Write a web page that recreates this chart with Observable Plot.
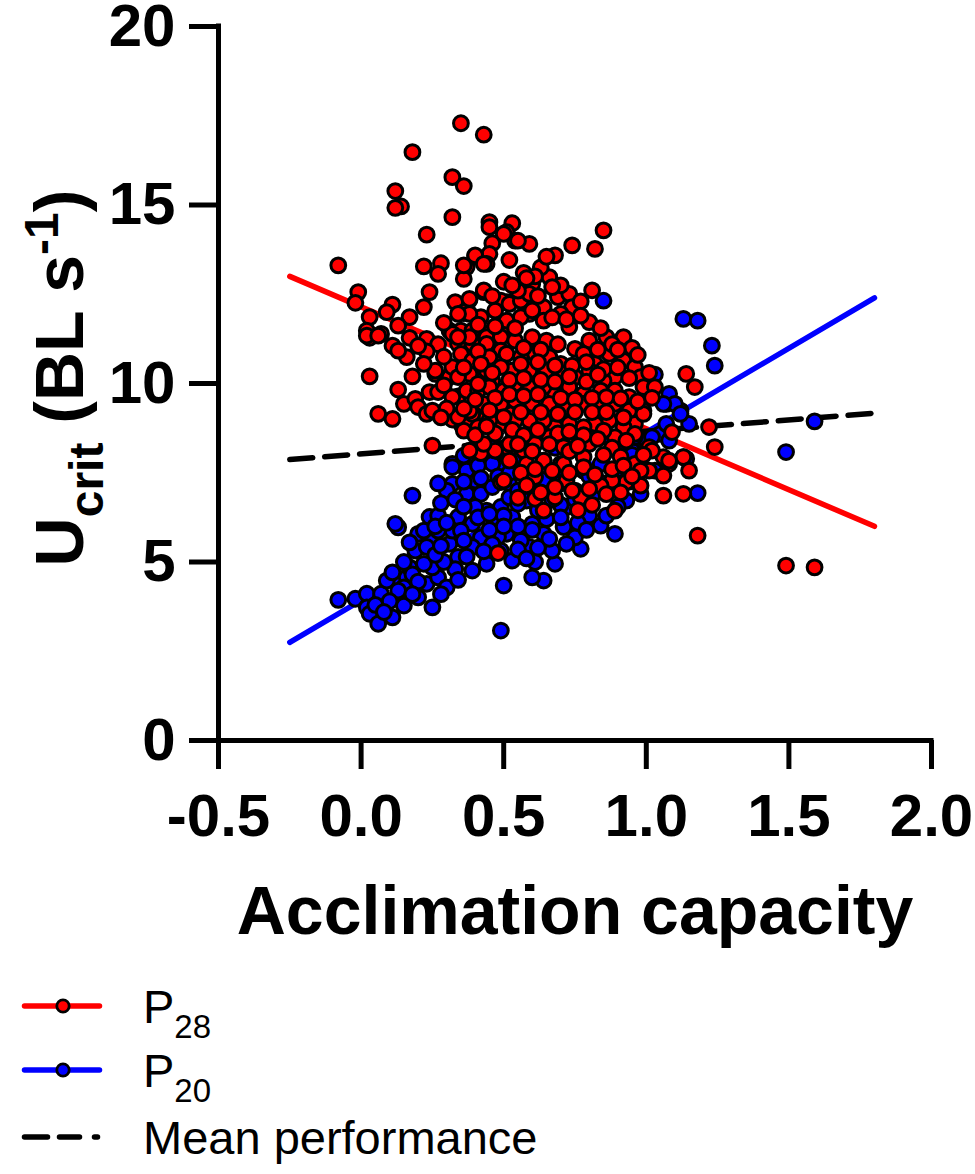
<!DOCTYPE html>
<html><head><meta charset="utf-8">
<script src="https://cdn.jsdelivr.net/npm/d3@7"></script>
<script src="https://cdn.jsdelivr.net/npm/@observablehq/plot@0.6"></script>
<style>
body{margin:0;background:#fff;}
#wrap{position:relative;width:975px;height:1174px;background:#fff;}
#legend{position:absolute;left:0;top:960px;}
</style></head><body><div id="wrap"><div id="chart"></div><svg id="legend" width="975" height="214"></svg></div>
<script>
// ---- data ----
const xTicks = [-0.5, 0, 0.5, 1, 1.5, 2];
const xTickLabels = ["-0.5", "0.0", "0.5", "1.0", "1.5", "2.0"];
const yTicks = [0, 5, 10, 15, 20];
const yTickLabels = ["0", "5", "10", "15", "20"];
const xTitle = "Acclimation capacity";

// P28 (red) points [acclimation capacity, Ucrit]
const p28 = [
[0.35,17.29],[0.43,16.97],[0.18,16.48],[0.32,15.78],[0.36,15.53],[0.12,15.39],[0.14,14.96],[0.12,14.92],[0.32,14.66],[0.23,14.17],
[0.45,14.52],[0.45,14.38],[0.53,14.49],[0.51,14.24],[0.54,14.0],
[0.46,13.93],[0.45,13.63],[0.44,13.35],[0.52,13.46],[0.40,13.56],[0.37,13.26],[0.36,12.93],[0.28,13.37],[0.27,13.07],[0.22,13.28],[-0.08,13.31],
[0.24,12.56],[0.22,12.14],[0.43,12.56],[0.38,12.34],[0.33,12.28],[0.36,11.97],[-0.01,12.56],[-0.02,12.26],[0.11,12.21],[0.09,12.0],
[0.03,11.86],[0.02,11.48],[0.03,11.28],[0.17,11.86],[0.13,11.62],[0.17,11.28],[0.07,11.39],[0.23,11.25],
[0.31,11.48],[0.35,11.48],[0.39,11.48],[0.44,11.39],[0.49,11.48],[0.51,12.28],[0.48,12.32],[0.36,12.0],[0.42,11.86],[0.51,11.76],
[0.02,11.34],[0.06,11.34],[0.11,11.06],[0.16,10.74],[0.13,10.92],[0.03,10.2],
[0.13,9.83],[0.15,9.43],[0.19,9.57],[0.20,9.34],[0.24,9.76],[0.27,9.76],[0.26,10.27],[0.31,10.18],[0.06,9.15],[0.11,9.01],[0.23,9.15],[0.25,9.24],
[0.25,8.26],[0.42,8.05],[0.49,7.24],[0.48,5.25],
[0.32,8.99],[0.38,8.96],[0.42,8.87],[0.34,9.64],[0.39,9.15],[0.44,9.06],[0.37,9.80],[0.41,9.80],[0.46,10.08],[0.39,10.36],[0.32,10.46],[0.34,11.11],[0.39,11.11],[0.44,11.30],[0.49,11.30],[0.49,10.92],[0.49,10.55],[0.53,10.18],[0.49,9.62],[0.53,9.15],[0.49,8.87],[0.53,8.40],[0.51,8.22],[0.32,9.62],[0.26,10.36],[0.32,11.39],
[0.85,14.29],[0.74,13.87],[0.82,13.77],[0.68,13.59],[0.59,13.91],[0.55,14.0],[0.50,14.19],[0.40,13.59],[0.36,13.31],[0.43,13.35],[0.66,12.98],[0.60,12.79],[0.81,12.61],
[0.43,12.61],[0.38,12.37],[0.49,12.32],[0.52,12.23],[0.56,12.32],[0.59,12.51],[0.64,12.14],[0.69,12.42],[0.73,12.51],[0.74,12.14],[0.70,11.95],[0.64,11.76],[0.59,11.95],[0.56,11.86],[0.47,12.04],[0.38,11.95],[0.34,11.95],
[0.80,11.72],[0.86,11.30],[0.92,11.30],[0.73,11.58],[0.80,11.20],[0.75,10.97],[0.65,11.20],[0.60,11.30],[0.54,11.20],[0.44,11.11],[0.38,11.30],[0.34,11.30],[0.35,10.83],[0.39,10.64],[0.45,10.74],[0.51,10.83],[0.56,10.74],[0.61,10.83],[0.66,10.74],[0.70,10.55],[0.78,10.83],[0.82,10.55],[0.87,10.83],[0.92,10.64],[0.96,10.46],[0.98,10.18],[0.89,10.18],[0.85,10.08],[0.80,10.36],[0.75,10.18],[0.71,10.27],[0.65,10.36],[0.59,10.36],[0.53,10.36],[0.49,10.46],[0.44,10.36],[0.38,10.27],[0.34,10.18],
[0.99,9.90],[0.94,9.62],[0.89,9.80],[0.84,9.80],[0.78,9.71],[0.73,9.90],[0.68,9.71],[0.64,9.90],[0.59,9.90],[0.54,9.99],[0.50,9.80],[0.45,9.90],[0.41,9.99],[0.38,9.24],[0.43,9.43],[0.49,9.43],[0.54,9.52],[0.60,9.43],[0.66,9.43],[0.72,9.34],[0.78,9.43],[0.84,9.52],[0.89,9.43],[0.94,9.24],[0.99,9.24],[0.96,8.87],[0.92,8.78],[0.87,8.96],[0.82,8.87],[0.78,8.78],[0.73,8.87],[0.68,8.78],[0.64,8.96],[0.59,8.96],[0.54,8.96],[0.50,9.06],[0.45,8.96],[0.41,8.78],[0.36,8.68],[0.34,9.06],
[0.96,8.59],[1.01,8.22],[1.06,7.94],[1.08,7.75],[1.13,7.94],[1.15,7.56],[0.89,8.50],[0.85,8.68],[0.80,8.31],[0.75,8.50],[0.71,8.22],[0.66,8.50],[0.61,8.31],[0.57,8.12],[0.52,8.31],[0.47,8.12],[0.43,8.31],[0.38,8.12],[0.78,7.94],[0.70,7.75],[0.64,7.84],[0.58,7.75],[0.52,7.84],[0.96,7.75],[1.01,7.56],[1.22,8.78],[1.24,8.22],[1.14,10.27],[1.17,9.90],[1.03,9.90],
[1.13,6.91],[1.06,6.86],[1.06,7.42],[1.09,8.64],[1.08,7.84],[1.02,8.12],[0.98,7.14],[0.98,7.56],[0.93,7.24],[0.89,6.44],[0.88,7.28],[1.18,5.74],[1.49,4.90],[1.59,4.85],[0.84,7.14],[0.77,6.81],[0.68,6.81],[0.61,6.77],[0.64,6.44],[0.72,7.28],[0.61,7.38],[0.50,7.28],[0.78,7.66],[0.71,7.75],[0.64,7.84],[0.99,9.15],
[0.57,13.1],[0.63,13.25],[0.50,12.85],[0.55,12.6],[0.70,12.75],[0.77,12.3],[0.62,12.45],[0.46,12.45],
[0.60,12.05],[0.67,11.85],[0.72,11.8],[0.77,11.9],[0.84,11.55],[0.88,11.1],[0.95,11.0],[0.47,11.6],[0.54,11.55],[0.41,11.65],[0.29,11.7],[0.27,11.1],[0.23,10.9],[0.20,11.05],
[0.57,11.0],[0.63,10.95],[0.69,11.1],[0.83,10.95],[0.90,10.95],[0.97,10.8],[0.41,10.9],[0.29,10.75],[0.22,10.55],[0.18,10.2],[0.29,9.95],
[0.56,10.55],[0.62,10.6],[0.68,10.5],[0.74,10.5],[0.79,10.6],[0.85,10.4],[0.90,10.45],[0.94,10.15],[1.01,10.3],[0.42,10.55],[0.36,10.45],[0.46,10.3],[0.52,10.1],[0.57,10.15],[0.63,10.1],[0.68,10.05],[0.73,10.2],[0.79,10.05],[0.83,10.25],
[0.47,9.6],[0.52,9.7],[0.57,9.65],[0.62,9.7],[0.70,9.6],[0.75,9.55],[0.81,9.6],[0.86,9.62],[0.91,9.58],[0.97,9.5],[1.02,9.6],[0.40,9.55],[0.36,9.3],[0.45,9.25],[0.56,9.2],[0.63,9.2],[0.69,9.15],[0.75,9.2],[0.81,9.2],[0.86,9.2],[0.92,9.05],[0.30,9.3],[0.28,9.05],
[0.47,8.6],[0.53,8.7],[0.57,8.55],[0.62,8.7],[0.69,8.6],[0.73,8.65],[0.78,8.55],[0.83,8.45],[0.88,8.2],[0.93,8.4],[0.99,8.0],[0.40,8.55],[0.44,8.8],[0.55,8.3],[0.66,8.3],[0.73,8.1],[0.76,8.25],[0.85,8.0],[0.91,7.95],[0.60,8.1],
[0.56,7.5],[0.61,7.6],[0.67,7.55],[0.73,7.5],[0.82,7.45],[0.88,7.6],[0.92,7.7],[0.95,7.4],[0.68,7.1],[0.74,7.0],[0.80,7.05],[0.86,6.9],[0.91,6.95],[0.58,7.15],[0.55,6.8],[0.63,6.95],[0.81,6.6],[0.76,6.45],
[0.61,13.0],[0.65,13.55],[0.58,12.95],[0.67,12.7],[0.53,12.75]
];

// P20 (blue) points
const p20 = [
[1.59,8.94],[1.49,8.08],[1.18,6.93],[0.89,5.79],[0.77,5.37],[0.68,4.95],[0.64,4.48],[0.60,4.57],[0.61,5.0],[0.53,5.04],[0.50,4.34],[0.49,3.08],[0.84,6.02],[0.80,6.30],[0.75,5.69],[0.72,5.51],[0.67,5.32],[0.59,5.42],[0.56,5.60],[0.51,5.79],[0.64,5.79],[0.71,5.98],[0.60,6.07],[0.53,6.26],[0.49,6.54],[0.58,6.72],[0.72,6.54],[0.52,7.19],[0.56,7.84],[0.93,6.72],[1.03,7.56],[1.14,7.89],[1.15,8.87],[1.07,9.43],[1.12,9.24],[0.98,6.91],[0.84,7.75],[0.95,8.12],[1.0,8.40],[1.05,8.59],
[1.13,11.81],[1.18,11.76],[1.23,11.06],[1.24,10.50],[1.03,10.25],[1.08,9.71],[1.10,9.43],[1.06,9.43],[1.12,9.15],[1.07,8.87],[1.02,8.50],[1.08,8.40],[1.13,7.94],[0.85,12.32],[0.32,7.75],[0.37,7.94],[0.45,7.84],[0.50,7.66],[0.54,7.84],[0.60,7.56],[0.70,7.56],[0.78,7.56],[0.94,7.75],[1.0,8.12],[0.96,8.50],[0.35,8.87],[0.46,8.22],
[-0.08,3.94],[-0.02,3.97],[0.02,4.11],[0.02,3.73],[0.03,3.55],[0.06,3.27],[0.11,3.45],[0.07,4.11],[0.09,4.48],[0.11,4.71],[0.16,4.57],[0.17,4.85],[0.15,4.29],[0.15,3.78],[0.20,4.01],[0.25,3.73],[0.23,4.39],[0.27,4.57],[0.25,4.85],[0.22,4.95],[0.19,5.32],[0.20,5.79],[0.25,5.69],[0.24,6.26],[0.27,6.30],[0.13,5.97],[0.12,6.07],[0.18,6.86],[0.23,5.42],
[0.31,5.51],[0.32,5.88],[0.34,6.26],[0.32,7.19],[0.36,7.98],[0.40,7.28],[0.37,6.91],[0.42,6.91],[0.46,7.75],[0.44,6.44],[0.39,6.07],[0.34,5.14],[0.30,4.29],[0.39,4.76],[0.44,4.95],[0.48,5.70],[0.52,6.81],[0.49,5.32],[0.55,6.63],[0.55,7.56],
[0.32,7.66],[0.35,5.88],[0.42,5.69],[0.39,5.42],[0.47,6.07],[0.40,6.54],[0.46,7.10],[0.37,7.56],[0.41,7.70],[0.27,5.88],[0.22,5.88],
[0.55,7.0],[0.60,7.3],[0.65,7.0],[0.70,7.2],[0.75,7.0],[0.80,7.4],[0.85,7.2],[0.90,7.6],[0.95,8.0],[0.70,6.6],[0.65,6.2],[0.60,5.9],[0.55,6.0],[0.50,6.3],[0.45,5.9],[0.58,8.0],[0.68,8.2],[0.78,8.3],[0.88,8.4],[0.48,8.1],
[0.30,7.0],[0.28,6.65],[0.33,6.75],[0.26,6.0],[0.30,6.1],[0.36,6.55],[0.41,6.25],[0.45,6.35],[0.50,6.0],[0.55,5.35],[0.58,5.1],[0.46,5.5],[0.43,5.3],[0.37,5.15],[0.33,4.8],[0.29,5.0],[0.26,5.2],[0.18,4.65],[0.20,4.45],[0.13,4.2],[0.10,3.9],[0.05,3.8],[0.08,3.6],[0.18,4.1],[0.28,4.1],[0.34,4.5],[0.36,5.6],[0.28,5.45],[0.15,5.0],[0.17,5.55],[0.62,5.4],[0.66,5.65],[0.70,6.25],[0.76,6.1],[0.79,5.9],[0.86,6.3],[0.90,6.55],[0.62,6.45],[0.67,6.75],[0.75,6.75],[0.82,6.95],[0.42,7.35],[0.48,7.4],[0.52,7.5],[0.36,7.25],[0.27,7.2],[0.58,7.35],[0.64,7.3],[0.94,7.25],[0.99,7.6]
];

// fitted lines (endpoints)
const fitX = [-0.25, 1.8];
const p28Fit = [13.0, 6.0];
const p20Fit = [2.75, 12.4];
const meanFit = [7.87, 9.17];

const legendLabels = ["P", "P", "Mean performance"];
const legendSubs = ["28", "20", ""];
const legendColors = ["#ff0000", "#0000ff", "#000000"];

// ---- chart ----
const RED = "#ff0000", BLUE = "#0000ff";
const FONT = "'Liberation Sans', Arial, Helvetica, sans-serif";
const fit = fitX.map((x, i) => ({x, p28: p28Fit[i], p20: p20Fit[i], mean: meanFit[i]}));
const xLab = new Map(xTicks.map((t, i) => [t, xTickLabels[i]]));
const yLab = new Map(yTicks.map((t, i) => [t, yTickLabels[i]]));

const plot = Plot.plot({
  width: 975, height: 960,
  marginTop: 26, marginBottom: 220, marginLeft: 218, marginRight: 44,
  x: {domain: [-0.5, 2.0]},
  y: {domain: [0, 20]},
  style: {fontFamily: FONT, fontWeight: "bold", background: "#fff", color: "#000", overflow: "visible"},
  marks: [
    Plot.line(fit, {x: "x", y: "p28", stroke: RED, strokeWidth: 5.5}),
    Plot.line(fit, {x: "x", y: "p20", stroke: BLUE, strokeWidth: 5.5}),
    Plot.line(fit, {x: "x", y: "mean", stroke: "#000", strokeWidth: 5.5, strokeDasharray: "23,12", strokeLinecap: "round"}),
    Plot.dot(p20, {x: d => d[0], y: d => d[1], r: 7.4, fill: BLUE, stroke: "#000", strokeWidth: 3}),
    Plot.dot(p28, {x: d => d[0], y: d => d[1], r: 7.4, fill: RED, stroke: "#000", strokeWidth: 3}),
    Plot.ruleY([0], {x1: -0.5, x2: 2.0, stroke: "#000", strokeWidth: 5, strokeLinecap: "square"}),
    Plot.ruleX([-0.5], {y1: 0, y2: 20, stroke: "#000", strokeWidth: 5, strokeLinecap: "square"}),
    Plot.axisX({ticks: xTicks, tickFormat: d => xLab.get(d), tickSize: 29, tickPadding: 24, fontSize: 60, fontWeight: "bold", strokeWidth: 5, label: null}),
    Plot.axisY({ticks: yTicks, tickFormat: d => yLab.get(d), tickSize: 29, tickPadding: 14, fontSize: 60, fontWeight: "bold", strokeWidth: 5, label: null}),
    Plot.text([xTitle], {frameAnchor: "bottom", dy: 172, fontSize: 68, fontWeight: "bold", lineAnchor: "middle"})
  ]
});
document.getElementById("chart").appendChild(plot);

// y-axis title with subscript / superscript
const yt = d3.select(plot).append("text")
  .attr("transform", "translate(83,378) rotate(-90)")
  .attr("text-anchor", "middle")
  .attr("font-family", FONT).attr("font-weight", "bold").attr("font-size", 68).attr("fill", "#000");
yt.append("tspan").text("U");
yt.append("tspan").attr("font-size", 48).attr("dy", 20).text("crit");
yt.append("tspan").attr("dy", -20).text(" (BL s");
yt.append("tspan").attr("font-size", 48).attr("dy", -25).text("-1");
yt.append("tspan").attr("dy", 25).text(")");

// ---- legend ----
const lg = d3.select("#legend");
const rowY = [46, 110, 177];
legendLabels.forEach((lab, i) => {
  const g = lg.append("g");
  const y = rowY[i];
  if (i < 2) {
    g.append("line").attr("x1", 24.5).attr("x2", 99.5).attr("y1", y).attr("y2", y)
      .attr("stroke", legendColors[i]).attr("stroke-width", 5.5).attr("stroke-linecap", "round");
    g.append("circle").attr("cx", 63).attr("cy", y).attr("r", 6.2).attr("fill", legendColors[i])
      .attr("stroke", "#000").attr("stroke-width", 2.8);
  } else {
    [[24.5, 47.5], [59.5, 79.5], [94.5, 97.5]].forEach(([a, b]) =>
      g.append("line").attr("x1", a).attr("x2", b).attr("y1", y).attr("y2", y)
        .attr("stroke", "#000").attr("stroke-width", 5.5).attr("stroke-linecap", "round"));
  }
  const t = g.append("text").attr("x", 143).attr("y", y + 17)
    .attr("font-family", FONT).attr("font-size", 47).attr("fill", "#000");
  t.append("tspan").text(lab);
  if (legendSubs[i]) t.append("tspan").attr("font-size", 33).attr("dy", 15).text(legendSubs[i]);
});
</script></body></html>
